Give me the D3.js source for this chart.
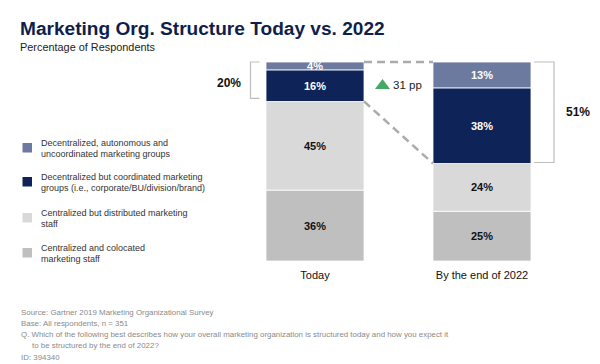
<!DOCTYPE html>
<html><head><meta charset="utf-8">
<script src="https://cdn.jsdelivr.net/npm/d3@7"></script>
<style>body{margin:0;background:#fff;}svg{display:block;font-family:"Liberation Sans",Arial,sans-serif;}</style>
</head><body>
<svg id="chart" width="600" height="364"></svg>
<script>
const categories = ["Today", "By the end of 2022"];
const seriesNames = [
  ["Centralized and colocated", "marketing staff"],
  ["Centralized but distributed marketing", "staff"],
  ["Decentralized but coordinated marketing", "groups (i.e., corporate/BU/division/brand)"],
  ["Decentralized, autonomous and", "uncoordinated marketing groups"]
];
const colocated = [36, 25];
const distributed = [45, 24];
const coordinated = [16, 38];
const autonomous = [4, 13];
const bracketTotals = ["20%", "51%"];
const changeLabel = "31 pp";
const colors = ["#BFBFBF", "#D9D9D9", "#0E2459", "#6B7A9E"];
const labelColors = ["#111", "#111", "#fff", "#fff"];

const svg = d3.select("#chart");
const series = [colocated, distributed, coordinated, autonomous];

// title
svg.append("text").attr("x", 20).attr("y", 34.5).attr("font-size", 19.1).attr("font-weight", "bold")
  .attr("fill", "#0F1E4D").text("Marketing Org. Structure Today vs. 2022");
svg.append("text").attr("x", 20).attr("y", 50.5).attr("font-size", 10.9).attr("fill", "#222")
  .text("Percentage of Respondents");

const x = d3.scaleBand().domain(categories).range([266, 531]).paddingInner(0.413).paddingOuter(0);
const y = d3.scaleLinear().domain([0, 1]).range([261, 62]);

const rows = categories.map((c, i) => {
  const total = d3.sum(series, s => s[i]);
  let acc = 0;
  return series.map((s, k) => {
    const y0 = acc / total; acc += s[i]; const y1 = acc / total;
    return {cat: c, k, v: s[i], y0, y1};
  });
});

const g = svg.append("g");
rows.forEach(r => {
  r.forEach(d => {
    g.append("rect").attr("x", x(d.cat)).attr("width", x.bandwidth())
      .attr("y", y(d.y1)).attr("height", y(d.y0) - y(d.y1))
      .attr("fill", colors[d.k]).attr("stroke", "#fff").attr("stroke-width", 0.8);
    g.append("text").attr("x", x(d.cat) + x.bandwidth() / 2)
      .attr("y", (y(d.y0) + y(d.y1)) / 2 + 4).attr("text-anchor", "middle")
      .attr("font-size", 11).attr("font-weight", "bold").attr("fill", labelColors[d.k])
      .text(d.v + "%");
  });
});

// category labels
categories.forEach(c => {
  svg.append("text").attr("x", x(c) + x.bandwidth() / 2).attr("y", 279).attr("text-anchor", "middle")
    .attr("font-size", 11).attr("fill", "#111").text(c);
});

// dashed connectors
const t = rows[0], f = rows[1];
const xr0 = x(categories[0]) + x.bandwidth(), xl1 = x(categories[1]);
svg.append("line").attr("x1", xr0).attr("x2", xl1).attr("y1", y(1)).attr("y2", y(1))
  .attr("stroke", "#ABABAB").attr("stroke-width", 2.5).attr("stroke-dasharray", "8,5");
svg.append("line").attr("x1", xr0).attr("x2", xl1).attr("y1", y(t[2].y0)).attr("y2", y(f[2].y0))
  .attr("stroke", "#ABABAB").attr("stroke-width", 2.5).attr("stroke-dasharray", "8,5");

// brackets
const bx0 = x(categories[0]) - 15.5;
svg.append("path").attr("d", `M${bx0+9},${y(1)} L${bx0},${y(1)} L${bx0},${y(t[2].y0)-3} L${bx0+9},${y(t[2].y0)-3}`)
  .attr("fill", "none").attr("stroke", "#BDBDBD").attr("stroke-width", 1.2);
svg.append("text").attr("x", 229).attr("y", 87).attr("text-anchor", "middle").attr("font-size", 12)
  .attr("font-weight", "bold").attr("fill", "#111").text(bracketTotals[0]);
const bx1 = x(categories[1]) + x.bandwidth() + 23;
svg.append("path").attr("d", `M${bx1-20},${y(1)} L${bx1},${y(1)} L${bx1},${y(f[2].y0)-1} L${bx1-20},${y(f[2].y0)-1}`)
  .attr("fill", "none").attr("stroke", "#BDBDBD").attr("stroke-width", 1.2);
svg.append("text").attr("x", 578).attr("y", 116).attr("text-anchor", "middle").attr("font-size", 12)
  .attr("font-weight", "bold").attr("fill", "#111").text(bracketTotals[1]);

// change marker
svg.append("path").attr("d", "M375,89 L390,89 L382.5,79 Z").attr("fill", "#46A867");
svg.append("text").attr("x", 393).attr("y", 88.5).attr("font-size", 11.5).attr("fill", "#222").text(changeLabel);

// legend
const legendY = [142, 176, 212, 247];
const legendOrder = [3, 2, 1, 0];
legendOrder.forEach((k, i) => {
  const ly = legendY[i];
  svg.append("rect").attr("x", 22.5).attr("y", ly + 1).attr("width", 9.5).attr("height", 9.5).attr("fill", colors[k]);
  seriesNames[k].forEach((line, j) => {
    svg.append("text").attr("x", 41).attr("y", ly + 3.5 + j * 11.3).attr("font-size", 9).attr("fill", "#333").text(line);
  });
});

// footer
const footer = [
  [21, 315, "Source: Gartner 2019 Marketing Organizational Survey"],
  [21, 325.5, "Base: All respondents, n = 351"],
  [21, 337, "Q. Which of the following best describes how your overall marketing organization is structured today and how you expect it"],
  [32, 348, "to be structured by the end of 2022?"],
  [21, 360, "ID: 394340"]
];
footer.forEach(d => {
  svg.append("text").attr("x", d[0]).attr("y", d[1]).attr("font-size", 7.9).attr("fill", "#8A8A8A").text(d[2]);
});
</script>
</body></html>
